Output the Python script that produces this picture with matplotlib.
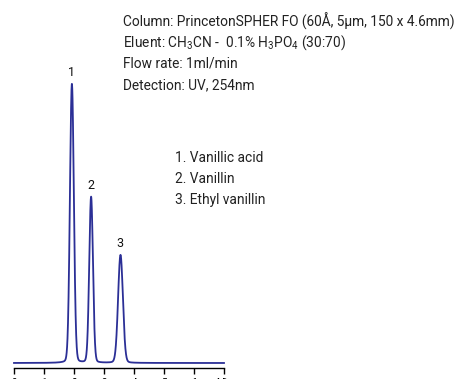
import numpy as np
import matplotlib
matplotlib.use("Agg")
import matplotlib.pyplot as plt
from matplotlib import font_manager

# ---- data ----
peak_ids = ["1", "2", "3"]
peak_times = [1.93, 2.57, 3.55]        # min
peak_heights = [279, 166, 108]         # detector response (arb.)
peak_sigmas = [0.065, 0.062, 0.08]     # min
compounds = ["Vanillic acid", "Vanillin", "Ethyl vanillin"]
tick_values = [0, 1, 2, 3, 4, 5, 6, 7]
tick_labels = ["0", "1", "2", "3", "4", "5", "6", "Min"]
run_end = 7.0

fam = "Roboto"
plt.rcParams["font.family"] = [fam, "DejaVu Sans"]
plt.rcParams["mathtext.fontset"] = "custom"
plt.rcParams["mathtext.rm"] = fam
plt.rcParams["mathtext.default"] = "regular"

t = np.linspace(0, run_end, 3000)
y = np.zeros_like(t)
for tr, h, s in zip(peak_times, peak_heights, peak_sigmas):
    g = np.exp(-0.5 * ((t - tr) / s) ** 2)
    lor = 1.0 / (1.0 + ((t - tr) / (1.2 * s)) ** 2)
    y += h * (0.93 * g + 0.07 * lor)

W, H = 462, 379
fig = plt.figure(figsize=(W / 100, H / 100), dpi=100)
ax_left, ax_right = 14, 224
ax_bottom_px, ax_top_px = 368, 20
ax = fig.add_axes([ax_left / W, (H - ax_bottom_px) / H,
                   (ax_right - ax_left) / W, (ax_bottom_px - ax_top_px) / H])
ax.set_xlim(0, run_end)
ax.set_ylim(-5, 343)

ax.plot(t, y, color="#2b2f96", lw=1.3, clip_on=False)

for pid, tr, h in zip(peak_ids, peak_times, peak_heights):
    ax.text(tr - 0.02, h + 5, pid, ha="center", va="bottom", fontsize=9, color="#111111")

for s in ["top", "right", "left"]:
    ax.spines[s].set_visible(False)
ax.spines["bottom"].set_linewidth(1.0)
ax.set_yticks([])
ax.set_xticks(tick_values)
ax.set_xticklabels(tick_labels, fontsize=7)
ax.tick_params(axis="x", direction="out", length=4.5, width=1.0, pad=2.5)

info = ["Column: PrincetonSPHER FO (60Å, 5µm, 150 x 4.6mm)",
        "Eluent: CH$_3$CN -  0.1% H$_3$PO$_4$ (30:70)",
        "Flow rate: 1ml/min",
        "Detection: UV, 254nm"]

# fit font size so that the first line spans ~332 px as in the reference
renderer = fig.canvas.get_renderer()
probe = fig.text(0, 0, info[0], fontsize=10)
wpx = probe.get_window_extent(renderer).width
probe.remove()
fs = 10 * 332 / wpx

for i, line in enumerate(info):
    fig.text(123 / W, 1 - (21 + 21.5 * i) / H, line, ha="left", va="center",
             fontsize=fs, color="#222222")

for i, (pid, name) in enumerate(zip(peak_ids, compounds)):
    fig.text(175 / W, 1 - (158 + 21 * i) / H, f"{pid}. {name}", ha="left",
             va="center", fontsize=fs, color="#222222")

fig.savefig("out.png", dpi=100)
